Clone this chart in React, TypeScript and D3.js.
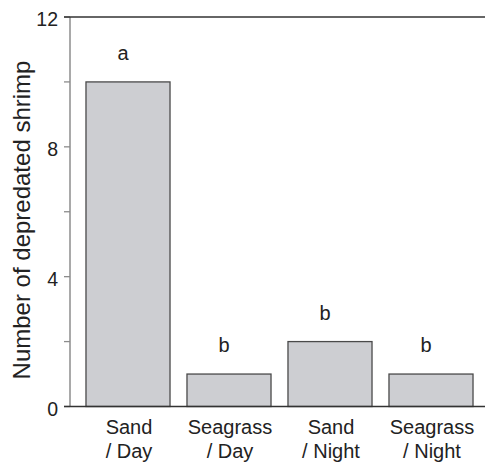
import React from "react";
import * as d3 from "d3";

const categories = ["Sand / Day", "Seagrass / Day", "Sand / Night", "Seagrass / Night"];
const labelLine1 = ["Sand", "Seagrass", "Sand", "Seagrass"];
const labelLine2 = ["/ Day", "/ Day", "/ Night", "/ Night"];
const values = [10, 1, 2, 1];
const letters = ["a", "b", "b", "b"];
const majorTicks = [0, 4, 8, 12];
const allTicks = [0, 2, 4, 6, 8, 10, 12];
const yTitle = "Number of depredated shrimp";

const W = 485;
const H = 462;
const FONT = "'Liberation Sans', Arial, Helvetica, sans-serif";

export default function App() {
  const y = d3.scaleLinear().domain([0, 12]).range([406.5, 17]);
  const x = d3
    .scaleBand<string>()
    .domain(categories)
    .range([77.5, 481.5])
    .paddingInner(0.168)
    .paddingOuter(0.084);
  const axisX = 70;
  const bw = x.bandwidth();

  return (
    <svg
      width={W}
      height={H}
      style={{ position: "absolute", left: 0, top: 0, display: "block" }}
      fontFamily={FONT}
    >
      <rect x={0} y={0} width={W} height={H} fill="#fff" />
      {categories.map((c, i) => (
        <rect
          key={c}
          x={x(c)!}
          y={y(values[i])}
          width={bw}
          height={y(0) - y(values[i])}
          fill="#cdced2"
          stroke="#4a4a4a"
          strokeWidth={1.3}
        />
      ))}
      {categories.map((c, i) => (
        <text
          key={"l" + c}
          x={x(c)! + bw / 2 - 5}
          y={y(values[i]) - 22}
          textAnchor="middle"
          fontSize={20}
          fill="#222"
        >
          {letters[i]}
        </text>
      ))}
      <line x1={axisX} x2={axisX} y1={y(12)} y2={y(0)} stroke="#8c8c8c" strokeWidth={1.5} />
      {allTicks.map((t) => (
        <line key={"t" + t} x1={axisX - 6} x2={axisX} y1={y(t)} y2={y(t)} stroke="#8c8c8c" strokeWidth={1.3} />
      ))}
      {majorTicks.map((t) => (
        <text key={"tl" + t} x={58} y={y(t) + 9} textAnchor="end" fontSize={19.5} fill="#222">
          {t}
        </text>
      ))}
      <line x1={axisX - 6} x2={W} y1={y(12)} y2={y(12)} stroke="#333" strokeWidth={1.6} />
      <line x1={axisX - 6} x2={W} y1={y(0)} y2={y(0)} stroke="#333" strokeWidth={1.6} />
      {categories.map((c, i) => (
        <g key={"x" + c}>
          <text x={x(c)! + bw / 2 + 1} y={434} textAnchor="middle" fontSize={20} fill="#222">
            {labelLine1[i]}
          </text>
          <text x={x(c)! + bw / 2 + 1} y={458} textAnchor="middle" fontSize={20} fill="#222">
            {labelLine2[i]}
          </text>
        </g>
      ))}
      <text
        transform={`translate(30, 220) rotate(-90)`}
        textAnchor="middle"
        fontSize={24}
        fill="#222"
      >
        {yTitle}
      </text>
    </svg>
  );
}
